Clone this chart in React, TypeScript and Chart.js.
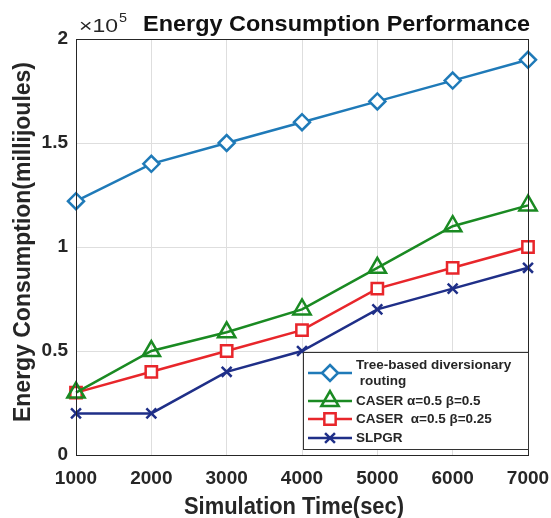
import React, { useEffect, useRef } from "react";
import { Chart, registerables } from "chart.js";

Chart.register(...registerables);

const times = [1000, 2000, 3000, 4000, 5000, 6000, 7000];
const treeBased = [122000, 140000, 150000, 160000, 170000, 180000, 190000];
const caser05 = [30000, 50000, 59000, 70000, 90000, 110000, 120000];
const caser025 = [30000, 40000, 50000, 60000, 80000, 90000, 100000];
const slpgr = [20000, 20000, 40000, 50000, 70000, 80000, 90000];

const seriesNames = [
  ["Tree-based diversionary", " routing"],
  ["CASER α=0.5 β=0.5"],
  ["CASER  α=0.5 β=0.25"],
  ["SLPGR"],
];
const colors = ["#1f7ab8", "#1a8a22", "#e8262b", "#1f2f88"];
const styles = ["rectRot", "triangle", "rect", "crossRot"];
const radii = [8, 10, 8, 7];
const titleText = "Energy Consumption Performance";
const xTitle = "Simulation Time(sec)";
const yTitle = "Energy Consumption(millijoules)";

const FONT = "'Liberation Sans', Arial, sans-serif";
const INK = "#262626";

function fitText(ctx: any, text: string, x: number, y: number, width: number) {
  const w = ctx.measureText(text).width;
  ctx.save();
  ctx.translate(x, y);
  ctx.scale(width / w, 1);
  ctx.fillText(text, 0, 0);
  ctx.restore();
}

function drawMarker(ctx: any, style: string, x: number, y: number, r: number, color: string) {
  ctx.save();
  ctx.strokeStyle = color;
  ctx.fillStyle = "#fff";
  ctx.lineWidth = 2.5;
  ctx.beginPath();
  if (style === "rectRot") {
    ctx.moveTo(x, y - r);
    ctx.lineTo(x + r, y);
    ctx.lineTo(x, y + r);
    ctx.lineTo(x - r, y);
    ctx.closePath();
    ctx.fill();
    ctx.stroke();
  } else if (style === "triangle") {
    ctx.moveTo(x, y - r);
    ctx.lineTo(x + r * 0.866, y + r / 2);
    ctx.lineTo(x - r * 0.866, y + r / 2);
    ctx.closePath();
    ctx.stroke();
  } else if (style === "rect") {
    const s = r * Math.SQRT1_2;
    ctx.rect(x - s, y - s, 2 * s, 2 * s);
    ctx.fill();
    ctx.stroke();
  } else {
    const s = r * Math.SQRT1_2;
    ctx.moveTo(x - s, y - s);
    ctx.lineTo(x + s, y + s);
    ctx.moveTo(x + s, y - s);
    ctx.lineTo(x - s, y + s);
    ctx.stroke();
  }
  ctx.restore();
}

const decorPlugin = {
  id: "decor",
  afterDatasetsDraw(chart: any) {
    const { ctx, chartArea } = chart;
    const { left, top, right, bottom } = chartArea;
    ctx.save();
    // axes box
    ctx.strokeStyle = INK;
    ctx.lineWidth = 1;
    ctx.strokeRect(left + 0.5, top + 0.5, right - left, bottom - top);

    // legend
    const lx = 303, ly = 352, lw = 225, lh = 97;
    ctx.fillStyle = "#ffffff";
    ctx.fillRect(lx, ly, lw, lh);
    ctx.strokeStyle = "#333";
    ctx.lineWidth = 1;
    ctx.strokeRect(lx + 0.5, ly + 0.5, lw, lh);
    const rows = [
      { y: 373, lines: [365, 381] },
      { y: 401, lines: [401] },
      { y: 419, lines: [419] },
      { y: 438, lines: [438] },
    ];
    ctx.font = `bold 13.5px ${FONT}`;
    ctx.textBaseline = "middle";
    ctx.textAlign = "left";
    rows.forEach((r, i) => {
      ctx.strokeStyle = colors[i];
      ctx.lineWidth = 2.5;
      ctx.beginPath();
      ctx.moveTo(308, r.y);
      ctx.lineTo(352, r.y);
      ctx.stroke();
      drawMarker(ctx, styles[i], 330, r.y, radii[i], colors[i]);
      ctx.fillStyle = INK;
      seriesNames[i].forEach((t, j) => ctx.fillText(t, 356, r.lines[j]));
    });

    // title
    ctx.fillStyle = "#111";
    ctx.textBaseline = "alphabetic";
    ctx.font = `bold 21.5px ${FONT}`;
    fitText(ctx, titleText, 143, 31, 387);
    // exponent
    ctx.fillStyle = INK;
    ctx.font = `18px ${FONT}`;
    fitText(ctx, "×10", 79, 32, 39);
    ctx.font = `13px ${FONT}`;
    fitText(ctx, "5", 119, 22, 8);

    // axis titles
    ctx.fillStyle = INK;
    ctx.font = `bold 23px ${FONT}`;
    ctx.textAlign = "left";
    const xw = 220;
    fitText(ctx, xTitle, 294 - xw / 2, 514, xw);
    ctx.save();
    ctx.translate(30, 242);
    ctx.rotate(-Math.PI / 2);
    fitText(ctx, yTitle, -180, 0, 360);
    ctx.restore();
    ctx.restore();
  },
};

export default function App() {
  const ref = useRef<HTMLCanvasElement>(null);
  useEffect(() => {
    document.body.style.margin = "0";
    const all = [treeBased, caser05, caser025, slpgr];
    const chart = new Chart(ref.current!, {
      type: "line",
      data: {
        datasets: all.map((vals, i) => ({
          label: seriesNames[i].join(""),
          data: vals.map((v, k) => ({ x: times[k], y: v })),
          borderColor: colors[i],
          backgroundColor: "transparent",
          pointBackgroundColor: i === 0 || i === 2 ? "#ffffff" : "transparent",
          pointBorderColor: colors[i],
          pointStyle: styles[i] as any,
          pointRadius: radii[i],
          pointBorderWidth: 2.5,
          borderWidth: 2.5,
          tension: 0,
          clip: false as any,
        })),
      },
      options: {
        animation: false,
        responsive: false,
        layout: { padding: { top: 39, right: 23, left: 0, bottom: 0 } },
        plugins: {
          legend: { display: false },
          tooltip: { enabled: false },
          title: { display: false },
        },
        scales: {
          x: {
            type: "linear",
            min: 1000,
            max: 7000,
            border: { display: false },
            grid: { color: "#dedede", drawTicks: false, lineWidth: 1 },
            ticks: {
              stepSize: 1000,
              padding: 12,
              color: INK,
              font: { family: FONT, size: 19, weight: "bold" },
              callback: (v: any) => String(v),
            },
            afterFit: (s: any) => {
              s.height = 63;
              s.paddingLeft = 0;
              s.paddingRight = 0;
            },
          },
          y: {
            type: "linear",
            min: 0,
            max: 200000,
            border: { display: false },
            grid: { color: "#dedede", drawTicks: false, lineWidth: 1 },
            ticks: {
              stepSize: 50000,
              padding: 8,
              color: INK,
              font: { family: FONT, size: 19, weight: "bold" },
              callback: (v: any) => String(v / 100000),
            },
            afterFit: (s: any) => {
              s.width = 76;
              s.paddingTop = 0;
              s.paddingBottom = 0;
            },
          },
        },
      },
      plugins: [decorPlugin],
    });
    return () => chart.destroy();
  }, []);
  return (
    <div style={{ position: "absolute", left: 0, top: 0, width: 551, height: 518, background: "#fff" }}>
      <canvas ref={ref} width={551} height={518} style={{ width: 551, height: 518 }} />
    </div>
  );
}
